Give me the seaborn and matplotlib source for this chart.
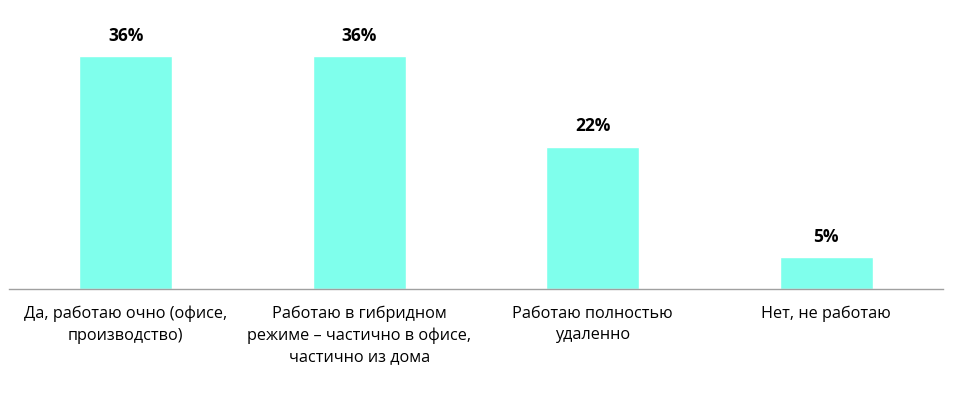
import pandas as pd
import seaborn as sns
import matplotlib.pyplot as plt

# answers and shares (%)
categories = [
    "Да, работаю очно (офисе,\nпроизводство)",
    "Работаю в гибридном\nрежиме – частично в офисе,\nчастично из дома",
    "Работаю полностью\nудаленно",
    "Нет, не работаю",
]
shares = [36, 36, 22, 5]

df = pd.DataFrame({"answer": categories, "share": shares})

sns.set_theme(style="white")
plt.rcParams['font.family'] = ['Open Sans', 'DejaVu Sans']

fig = plt.figure(figsize=(9.55, 3.97), dpi=100)
ax = fig.add_axes([9 / 955, 108 / 397, 934 / 955, 259 / 397])

sns.barplot(data=df, x="answer", y="share", color="#7FFFEC", saturation=1,
            width=0.4, ax=ax)

for c in ax.containers:
    ax.bar_label(c, labels=[f"{v}%" for v in shares], padding=8,
                 fontsize=12.5, fontweight="bold", color="#000000")

ax.set_ylim(0, 40)
ax.set_xlim(-0.5, len(categories) - 0.5)
ax.set_xlabel("")
ax.set_ylabel("")
ax.set_yticks([])
for side in ["top", "right", "left"]:
    ax.spines[side].set_visible(False)
ax.spines["bottom"].set_color("#a0a0a0")
ax.spines["bottom"].set_linewidth(1)
ax.tick_params(axis="x", length=0, pad=12, labelsize=11.7, labelcolor="#000000")
for t in ax.get_xticklabels():
    t.set_linespacing(1.45)

fig.savefig("out.png", dpi=100, facecolor="white")
